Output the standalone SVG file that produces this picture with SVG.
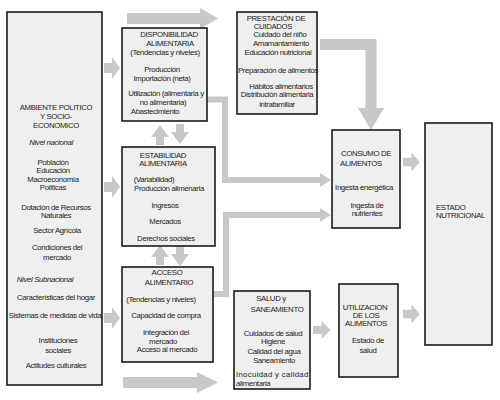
<svg xmlns="http://www.w3.org/2000/svg" width="500" height="400" viewBox="0 0 500 400">
<style>
.box{fill:#efefef;stroke:#1a1a1a;stroke-width:1.6}
.t{font-family:"Liberation Sans",Arial,sans-serif;font-size:7.8px;letter-spacing:-0.35px;fill:#222;text-anchor:middle}
.l{text-anchor:start}
.i{font-style:italic}
.ar{fill:#c8c8c8}
.ln{fill:none;stroke:#c8c8c8;stroke-width:6;stroke-linejoin:miter}
</style>
<defs>
<path id="sa" d="M0,-5 H8 V-11 L16,0 L8,11 V5 H0 Z"/>
<path id="va" d="M-4,0 H4 V-8 H9 L0,-20 L-9,-8 H-4 Z"/>
</defs>
<rect width="500" height="400" fill="#fff"/>

<g id="connectors">
<path class="ar" d="M127,13 H200 V8 L218,18.5 L200,29 V24 H127 Z"/>
<path class="ar" d="M123,377 H197 V372 L218,382.5 L197,393 V388 H123 Z"/>
<use href="#sa" class="ar" transform="translate(104,68)"/>
<use href="#sa" class="ar" transform="translate(104,187)"/>
<use href="#sa" class="ar" transform="translate(104,318)"/>
<use href="#va" class="ar" transform="translate(160,145)"/>
<use href="#va" class="ar" transform="translate(180,124) rotate(180)"/>
<use href="#va" class="ar" transform="translate(160,265)"/>
<use href="#va" class="ar" transform="translate(180,246) rotate(180)"/>
<path class="ln" d="M207,99.5 H225 V180 H321"/>
<polygon class="ar" points="320,173 331,180 320,187"/>
<path class="ln" d="M213,294 H226 V215 H321"/>
<polygon class="ar" points="320,208 331,215 320,222"/>
<path class="ln" style="stroke-width:11" d="M320,44.5 H371 V109"/>
<polygon class="ar" points="358,108 384,108 371,130"/>
<use href="#sa" class="ar" transform="translate(403,162) scale(1.05,0.85)"/>
<use href="#sa" class="ar" transform="translate(403,314) scale(1.05,0.85)"/>
<use href="#sa" class="ar" transform="translate(313,330) scale(1.1,0.8)"/>
</g>

<g id="ambiente">
<rect class="box" x="7" y="12" width="95" height="373"/>
<text class="t" x="56" y="110">AMBIENTE POLITICO</text>
<text class="t" x="56" y="119">Y SOCIO-</text>
<text class="t" x="56" y="128">ECONOMICO</text>
<text class="t i" x="51" y="145">Nivel nacional</text>
<text class="t" x="53" y="165">Población</text>
<text class="t" x="53" y="173">Educación</text>
<text class="t" x="53" y="182">Macroeconomía</text>
<text class="t" x="53" y="190">Políticas</text>
<text class="t" x="56" y="210">Dotación de Recursos</text>
<text class="t" x="56" y="218">Naturales</text>
<text class="t" x="57" y="233">Sector Agrícola</text>
<text class="t" x="57" y="250">Condiciones del</text>
<text class="t" x="57" y="260">mercado</text>
<text class="t i" x="45" y="282">Nivel Subnacional</text>
<text class="t" x="56" y="300">Características del hogar</text>
<text class="t" x="55" y="318">Sistemas de medidas de vida</text>
<text class="t" x="58" y="343">Instituciones</text>
<text class="t" x="58" y="353">sociales</text>
<text class="t" x="56" y="368">Actitudes culturales</text>
</g>

<g id="disponibilidad">
<rect class="box" x="122" y="28" width="85" height="93"/>
<text class="t" x="169" y="37">DISPONIBILIDAD</text>
<text class="t" x="170" y="46">ALIMENTARIA</text>
<text class="t" x="165" y="55">(Tendencias y niveles)</text>
<text class="t" x="162" y="72">Producción</text>
<text class="t" x="162" y="81">Importación (neta)</text>
<text class="t" x="166" y="96">Utilización (alimentaria y</text>
<text class="t" x="163" y="105">no alimentaria)</text>
<text class="t" x="155" y="114">Abastecimiento</text>
</g>

<g id="estabilidad">
<rect class="box" x="122" y="147" width="93" height="99"/>
<text class="t" x="163" y="158">ESTABILIDAD</text>
<text class="t" x="163" y="166">ALIMENTARIA</text>
<text class="t" x="154" y="182">(Variabilidad)</text>
<text class="t" x="169" y="191">Producción alimenaria</text>
<text class="t" x="165" y="208">Ingresos</text>
<text class="t" x="165" y="224">Mercados</text>
<text class="t" x="166" y="241">Derechos sociales</text>
</g>

<g id="acceso">
<rect class="box" x="122" y="267" width="91" height="95"/>
<text class="t" x="167" y="275">ACCESO</text>
<text class="t" x="169" y="285">ALIMENTARIO</text>
<text class="t" x="161" y="302">(Tendencias y niveles)</text>
<text class="t" x="166" y="318">Capacidad de compra</text>
<text class="t" x="166" y="335">Integración del</text>
<text class="t" x="163" y="344">mercado</text>
<text class="t" x="167" y="352">Acceso al mercado</text>
</g>

<g id="prestacion">
<rect class="box" x="237" y="12" width="80" height="102"/>
<text class="t" x="276" y="21">PRESTACIÓN DE</text>
<text class="t" x="273" y="29">CUIDADOS</text>
<text class="t" x="280" y="37">Cuidado del niño</text>
<text class="t" x="281" y="46">Amamantamiento</text>
<text class="t" x="278" y="55">Educación nutricional</text>
<text class="t" x="278" y="73">Preparación de alimentos</text>
<text class="t" x="281" y="89">Hábitos alimentarios</text>
<text class="t" x="277" y="97">Distribución alimentaria</text>
<text class="t" x="277" y="107">intrafamiliar</text>
</g>

<g id="salud">
<rect class="box" x="234" y="291" width="76" height="98"/>
<text class="t" x="271" y="301">SALUD y</text>
<text class="t" x="277" y="312">SANEAMIENTO</text>
<text class="t" x="273" y="336">Cuidados de salud</text>
<text class="t" x="273" y="344">Higiene</text>
<text class="t" x="274" y="354">Calidad del agua</text>
<text class="t" x="274" y="363">Saneamiento</text>
<text class="t l" x="236" y="377" textLength="72" lengthAdjust="spacing">Inocuidad y calidad</text>
<text class="t l" x="236" y="386">alimentaria</text>
</g>

<g id="consumo">
<rect class="box" x="332" y="130" width="68" height="98"/>
<text class="t" x="366" y="156">CONSUMO DE</text>
<text class="t" x="361" y="166">ALIMENTOS</text>
<text class="t" x="364" y="190">Ingesta energética</text>
<text class="t" x="367" y="208">Ingesta de</text>
<text class="t" x="367" y="216">nutrientes</text>
</g>

<g id="utilizacion">
<rect class="box" x="339" y="284" width="59" height="93"/>
<text class="t" x="365" y="310">UTILIZACION</text>
<text class="t" x="366" y="318">DE LOS</text>
<text class="t" x="366" y="326">ALIMENTOS</text>
<text class="t" x="368" y="343">Estado de</text>
<text class="t" x="368" y="353">salud</text>
</g>

<g id="estado">
<rect class="box" x="425" y="123" width="67" height="222"/>
<text class="t l" x="436" y="210">ESTADO</text>
<text class="t l" x="436" y="218">NUTRICIONAL</text>
</g>
</svg>
